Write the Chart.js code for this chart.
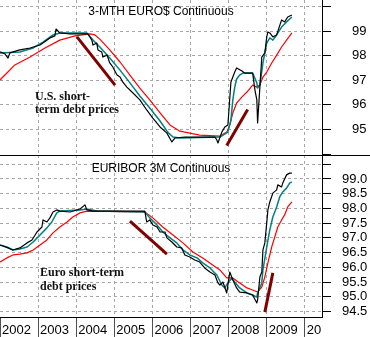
<!DOCTYPE html>
<html><head><meta charset="utf-8">
<script src="https://cdn.jsdelivr.net/npm/chart.js@4"></script>
<style>
html,body{margin:0;padding:0;background:#fff;}
#wrap{position:relative;width:370px;height:337px;overflow:hidden;background:#fff;}
#c1{position:absolute;left:0;top:0;}
#c2{position:absolute;left:0;top:155px;}
</style></head><body>
<div id="wrap"><canvas id="c1" width="370" height="155"></canvas><canvas id="c2" width="370" height="182"></canvas></div>
<script>
// ---- data (time in decimal years, prices) ----
const yearTicks = [2002, 2003, 2004, 2005, 2006, 2007, 2008, 2009, 2010];
const yearLabels = ['2002', '2003', '2004', '2005', '2006', '2007', '2008', '2009', '20'];
const usTicks = [94, 95, 96, 97, 98, 99, 100];
const euTicks = [94.5, 95, 95.5, 96, 96.5, 97, 97.5, 98, 98.5, 99, 99.5];

const usTitle = '3-MTH EURO$ Continuous';
const euTitle = 'EURIBOR 3M Continuous';
const usNote = ['U.S. short-', 'term debt prices'];
const euNote = ['Euro short-term', 'debt prices'];

const usPriceT = [2002.00,2002.13,2002.21,2002.26,2002.52,2002.79,2003.05,2003.31,2003.44,2003.47,2003.57,2003.84,2004.10,2004.31,2004.41,2004.44,2004.54,2004.57,2004.67,2004.70,2004.81,2004.88,2004.96,2005.07,2005.15,2005.22,2005.33,2005.49,2005.67,2005.85,2006.01,2006.20,2006.38,2006.51,2006.59,2006.85,2007.24,2007.64,2007.69,2007.72,2007.82,2007.90,2007.98,2008.06,2008.16,2008.21,2008.35,2008.42,2008.63,2008.69,2008.74,2008.76,2008.82,2008.87,2008.95,2009.00,2009.03,2009.08,2009.16,2009.26,2009.39,2009.47,2009.55,2009.66];
const usPriceV = [98.15,98.07,97.90,98.11,98.23,98.31,98.43,98.72,98.80,99.08,98.92,98.88,98.88,98.88,98.63,98.43,98.51,98.23,98.15,97.94,98.02,97.70,97.54,97.21,97.13,96.93,96.72,96.48,96.20,95.79,95.46,95.10,94.85,94.49,94.65,94.69,94.69,94.69,94.57,94.45,94.89,95.10,95.18,96.93,97.33,97.50,97.37,97.29,97.29,96.60,96.20,95.26,96.72,97.94,98.11,98.76,98.96,98.92,98.76,98.84,99.45,99.37,99.57,99.65];

const usShortT = [2002.00,2002.52,2002.87,2003.13,2003.39,2003.57,2004.28,2004.44,2004.62,2004.88,2005.15,2005.41,2005.67,2005.93,2006.20,2006.40,2006.54,2006.72,2007.77,2007.98,2008.06,2008.11,2008.16,2008.21,2008.29,2008.37,2008.63,2008.74,2008.76,2008.82,2008.90,2009.00,2009.08,2009.16,2009.26,2009.39,2009.52,2009.66];
const usShortV = [98.11,98.15,98.31,98.55,98.84,98.92,98.92,98.63,98.35,97.90,97.41,96.89,96.36,95.87,95.34,94.89,94.69,94.65,94.69,94.89,95.38,96.20,96.72,97.05,97.21,97.29,97.29,96.89,96.68,96.80,97.70,98.51,98.72,98.63,98.84,99.16,99.37,99.57];

const usLongT = [2002.00,2002.39,2002.79,2003.18,2003.57,2003.97,2004.36,2004.49,2004.62,2004.88,2005.15,2005.41,2005.67,2005.93,2006.20,2006.46,2006.72,2006.98,2007.24,2007.77,2007.95,2008.03,2008.11,2008.21,2008.35,2008.48,2008.63,2008.74,2008.82,2008.90,2009.00,2009.13,2009.26,2009.39,2009.52,2009.66];
const usLongV = [97.01,97.62,97.94,98.31,98.63,98.80,98.88,98.84,98.67,98.23,97.74,97.21,96.68,96.20,95.67,95.18,94.93,94.85,94.77,94.73,94.89,95.18,95.67,96.07,96.32,96.52,96.80,96.72,96.80,97.13,97.33,97.70,98.02,98.35,98.63,98.92];

const euPriceT = [2002.00,2002.21,2002.34,2002.52,2002.71,2002.84,2002.97,2003.10,2003.13,2003.23,2003.31,2003.39,2003.49,2003.57,2003.84,2004.10,2004.23,2004.28,2004.44,2005.80,2005.85,2005.93,2006.01,2006.12,2006.20,2006.33,2006.38,2006.51,2006.64,2006.77,2006.85,2006.98,2007.11,2007.24,2007.37,2007.51,2007.64,2007.72,2007.77,2007.85,2007.95,2008.03,2008.11,2008.21,2008.29,2008.48,2008.63,2008.74,2008.76,2008.82,2008.87,2008.90,2008.95,2009.00,2009.03,2009.08,2009.16,2009.26,2009.29,2009.39,2009.42,2009.52,2009.60,2009.66];
const euPriceV = [96.76,96.66,96.59,96.66,96.83,96.93,97.20,97.37,97.61,97.54,97.68,97.88,97.95,97.91,97.88,97.98,98.12,97.95,97.91,97.91,97.54,97.61,97.44,97.37,97.20,97.20,97.00,96.86,96.69,96.66,96.42,96.35,96.25,96.18,95.98,95.84,95.74,95.47,95.40,95.50,95.13,95.84,95.57,95.30,95.16,95.13,95.06,94.79,94.89,95.67,95.84,96.59,96.83,97.51,97.95,98.22,98.52,98.63,98.80,98.73,98.86,99.14,99.20,99.20];

const euShortT = [2002.00,2002.18,2002.34,2002.52,2002.71,2002.87,2003.05,2003.23,2003.36,2003.49,2003.57,2004.10,2004.28,2004.54,2005.80,2005.93,2006.12,2006.27,2006.46,2006.64,2006.80,2006.98,2007.17,2007.32,2007.51,2007.69,2007.82,2007.90,2007.98,2008.08,2008.16,2008.29,2008.48,2008.63,2008.74,2008.76,2008.87,2008.90,2009.00,2009.08,2009.16,2009.26,2009.34,2009.42,2009.52,2009.60,2009.66];
const euShortV = [96.76,96.69,96.59,96.62,96.69,96.86,97.10,97.34,97.54,97.85,97.91,97.95,97.98,97.91,97.88,97.68,97.44,97.20,97.00,96.83,96.59,96.42,96.32,96.15,95.98,95.74,95.40,95.30,95.47,95.64,95.50,95.30,95.13,95.06,94.99,95.13,95.47,95.91,96.69,97.27,97.71,98.05,98.39,98.56,98.69,98.86,98.90];

const euLongT = [2002.00,2002.18,2002.34,2002.52,2002.71,2002.87,2003.05,2003.23,2003.39,2003.57,2003.76,2003.91,2004.10,2004.28,2005.80,2006.01,2006.27,2006.54,2006.80,2007.06,2007.32,2007.58,2007.77,2007.95,2008.11,2008.29,2008.48,2008.63,2008.76,2008.87,2008.95,2009.03,2009.13,2009.21,2009.29,2009.39,2009.47,2009.55,2009.66];
const euLongV = [96.18,96.32,96.42,96.45,96.49,96.59,96.76,96.93,97.17,97.37,97.54,97.71,97.85,97.91,97.88,97.68,97.37,97.10,96.83,96.52,96.32,96.08,95.91,95.64,95.64,95.47,95.30,95.23,95.16,95.33,95.67,96.15,96.69,97.03,97.37,97.61,97.78,98.05,98.22];

// hand-drawn trend lines (start/end in time and price)
const usTrendT = [[2004.02, 2005.02], [2007.95, 2008.50]];
const usTrendV = [[98.76, 96.80], [94.35, 95.81]];
const euTrendT = [[2005.41, 2006.38], [2008.95, 2009.16]];
const euTrendV = [[97.57, 96.45], [94.48, 95.81]];

// ---- rendering ----
const SANS = '"Liberation Sans", Arial, Helvetica, sans-serif';
const SERIF = '"Liberation Serif", "Times New Roman", serif';
const GRID = '#a6a6a6';
const pts = (T, V) => T.map((t, i) => ({x: t, y: V[i]}));

function lineSets(pT, pV, sT, sV, lT, lV, trT, trV) {
  const ds = [
    {data: pts(pT, pV), borderColor: '#000000', borderWidth: 1.2},
    {data: pts(sT, sV), borderColor: '#008080', borderWidth: 1.5},
    {data: pts(lT, lV), borderColor: '#ff0000', borderWidth: 1.2}
  ];
  trT.forEach((t, i) => ds.push({data: pts(t, trV[i]), borderColor: '#800000', borderWidth: 3, borderCapStyle: 'butt'}));
  return ds.map(d => Object.assign({pointRadius: 0, tension: 0, fill: false}, d));
}

function xScale(show) {
  return {
    type: 'linear', min: 2002, max: 2010.45,
    afterBuildTicks: s => { s.ticks = yearTicks.map(v => ({value: v})); },
    grid: {
      color: c => (c.tick && c.tick.value === 2002) ? 'rgba(0,0,0,0)' : GRID,
      lineWidth: 1, drawTicks: show, tickLength: 20, tickColor: '#505050', tickWidth: 1, tickBorderDash: []
    },
    border: {display: show, color: '#000', width: 1, dash: [3, 3]},
    ticks: {
      display: show, align: 'start', labelOffset: 2, padding: -14.5, maxRotation: 0, minRotation: 0,
      autoSkip: false, color: '#000', font: {family: SANS, size: 13},
      callback: v => { const i = yearTicks.indexOf(v); return i < 0 ? '' : yearLabels[i]; }
    },
    afterFit: s => { s.height = show ? 20 : 0; s.paddingLeft = 0; s.paddingRight = 0; }
  };
}

function yScale(min, max, ticks, hideGridVals, labelFn, pad) {
  return {
    type: 'linear', position: 'right', min: min, max: max,
    afterBuildTicks: s => { s.ticks = ticks.map(v => ({value: v})); },
    grid: {
      color: c => (c.tick && hideGridVals.includes(c.tick.value)) ? 'rgba(0,0,0,0)' : GRID,
      lineWidth: 1, drawTicks: true, tickLength: 9, tickColor: '#000', tickWidth: 1, tickBorderDash: []
    },
    border: {display: true, color: '#000', width: 1, dash: [3, 3]},
    ticks: {padding: pad, color: '#000', font: {family: SANS, size: 13}, autoSkip: false, callback: labelFn},
    afterFit: s => { s.width = 48; s.paddingTop = 0; s.paddingBottom = 0; }
  };
}

function textPlugin(title, note, noteX, noteY, sep) {
  return {
    id: 'texts',
    afterDraw(chart) {
      const ctx = chart.ctx, a = chart.chartArea;
      ctx.save();
      if (sep) {
        ctx.strokeStyle = '#000'; ctx.lineWidth = 1;
        ctx.beginPath(); ctx.moveTo(0, a.top + 0.5); ctx.lineTo(chart.width, a.top + 0.5); ctx.stroke();
      }
      ctx.fillStyle = '#000';
      ctx.font = '12px ' + SANS;
      ctx.textAlign = 'center'; ctx.textBaseline = 'alphabetic';
      ctx.fillText(title, (a.left + a.right) / 2, a.top + (sep ? 17 : 15));
      ctx.fillStyle = '#111';
      ctx.font = 'bold 12px ' + SERIF;
      ctx.textAlign = 'left';
      note.forEach((s, i) => ctx.fillText(s, a.left + noteX, a.top + noteY + i * 13.5));
      ctx.restore();
    }
  };
}

const common = {
  responsive: false, animation: false, devicePixelRatio: 1,
  layout: {padding: 0},
  plugins: {legend: {display: false}, tooltip: {enabled: false}},
  elements: {line: {borderJoinStyle: 'round'}}
};

new Chart(document.getElementById('c1'), {
  type: 'line',
  data: {datasets: lineSets(usPriceT, usPriceV, usShortT, usShortV, usLongT, usLongV, usTrendT, usTrendV)},
  options: Object.assign({}, common, {
    scales: {
      x: xScale(false),
      y: yScale(93.96, 100.26, usTicks, [94], v => (v >= 95 && v <= 99) ? String(v) : '', 21)
    }
  }),
  plugins: [textPlugin(usTitle, usNote, 35, 99.5, false)]
});

new Chart(document.getElementById('c2'), {
  type: 'line',
  data: {datasets: lineSets(euPriceT, euPriceV, euShortT, euShortV, euLongT, euLongV, euTrendT, euTrendV)},
  options: Object.assign({}, common, {
    scales: {
      x: xScale(true),
      y: yScale(94.313, 99.815, euTicks, [], v => v <= 99 ? v.toFixed(1) : '', 11)
    }
  }),
  plugins: [textPlugin(euTitle, euNote, 40, 121, true)]
});
</script>
</body></html>
